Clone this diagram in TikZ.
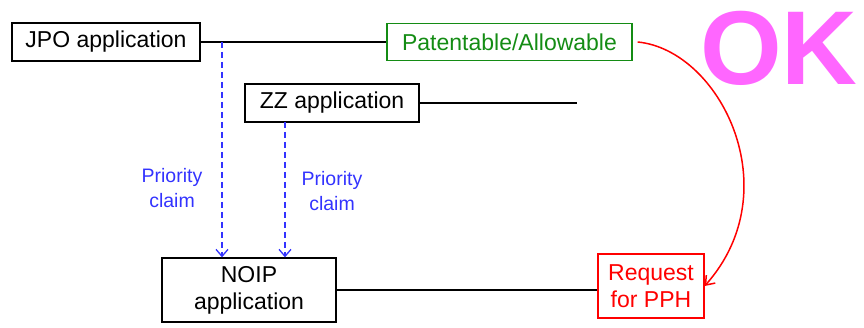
\documentclass[tikz,border=0pt]{standalone}
\usepackage{fontspec}
\setmainfont{Liberation Sans}
\usetikzlibrary{arrows.meta}
\definecolor{prio}{RGB}{51,51,255}
\definecolor{okpink}{RGB}{255,102,255}
\definecolor{patgreen}{RGB}{20,140,20}
\begin{document}
\begin{tikzpicture}[x=1pt,y=-1pt,line width=1.3pt,font=\fontsize{23}{27}\selectfont,
  box/.style={draw,inner sep=0pt,align=center},
  claim/.style={draw=prio,dash pattern=on 6pt off 4pt,-{Straight Barb[length=7pt,width=12pt]}}]
\useasboundingbox (0,0) rectangle (864,328);
\node[box,minimum width=188pt,minimum height=38pt](jpo) at (106,42){JPO application};
\node[box,draw=patgreen,text=patgreen,minimum width=245pt,minimum height=37pt](pat) at (509.5,42){Patentable/Allowable};
\node[box,minimum width=174pt,minimum height=38pt](zz) at (332,103){ZZ application};
\node[box,minimum width=174pt,minimum height=64pt](noip) at (249,290){NOIP\\application};
\node[box,draw=red,text=red,minimum width=106pt,minimum height=64pt](pph) at (651,286){Request\\for PPH};
\node[text=okpink,inner sep=0pt,font=\fontsize{105}{105}\bfseries\selectfont](ok) at (779,48){OK};
\draw(jpo.east)--(pat.west);
\coordinate(zzend) at (577,103);
\draw(zz.east)--(zzend);
\draw(noip.east)--(noip.east -| pph.west);
% priority claims
\coordinate(j1) at (222,42);
\coordinate(z1) at (285,122);
\draw[claim](j1)--(j1 |- noip.north);
\draw[claim](z1)--(z1 |- noip.north);
\node[text=prio,font=\fontsize{19.5}{25}\selectfont,align=center](c1) at (172,188){Priority\\claim};
\node[text=prio,font=\fontsize{19.5}{25}\selectfont,align=center](c2) at (332,191){Priority\\claim};
\draw[red,line width=1.5pt,-{Straight Barb[length=8pt,width=12pt]}]([xshift=5pt]pat.east) .. controls (720,50) and (790,190) .. (pph.east);
\end{tikzpicture}
\end{document}
